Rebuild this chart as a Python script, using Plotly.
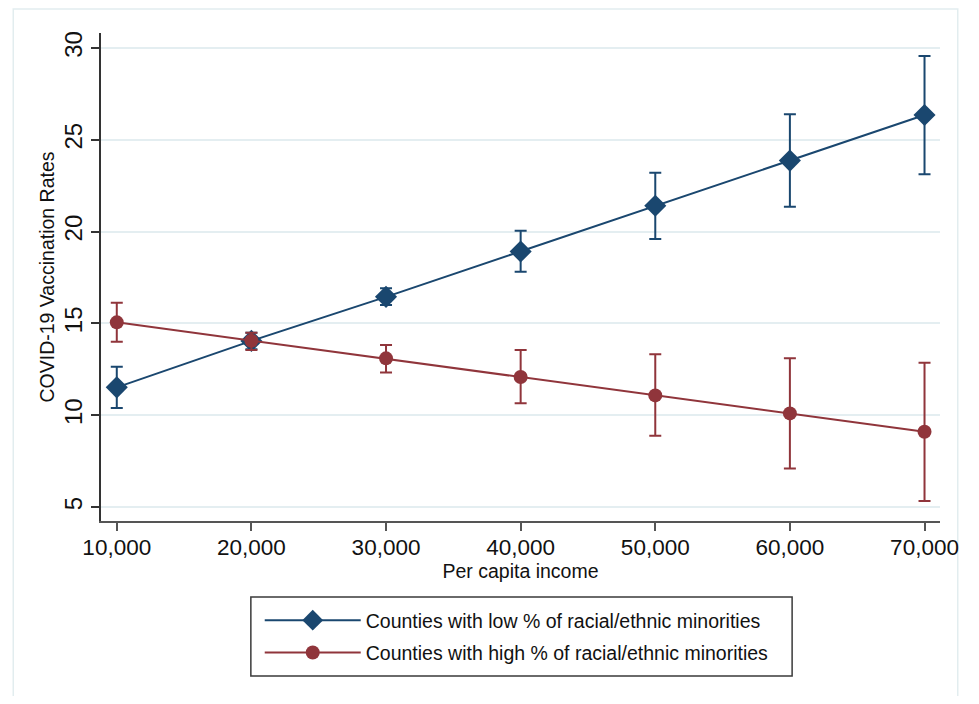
import plotly.graph_objects as go

income = [10000, 20000, 30000, 40000, 50000, 60000, 70000]
income_ticks = [10000, 20000, 30000, 40000, 50000, 60000, 70000]
income_tick_labels = ["10,000", "20,000", "30,000", "40,000", "50,000", "60,000", "70,000"]
rate_ticks = [5, 10, 15, 20, 25, 30]

low_name = "Counties with low % of racial/ethnic minorities"
low_rate = [11.52, 14.05, 16.45, 18.92, 21.41, 23.87, 26.35]
low_lo = [10.40, 13.60, 16.00, 17.82, 19.60, 21.36, 23.13]
low_hi = [12.64, 14.50, 16.92, 20.05, 23.21, 26.40, 29.57]

high_name = "Counties with high % of racial/ethnic minorities"
high_rate = [15.06, 14.06, 13.10, 12.08, 11.08, 10.10, 9.10]
high_lo = [14.00, 13.55, 12.33, 10.65, 8.88, 7.10, 5.33]
high_hi = [16.13, 14.50, 13.82, 13.55, 13.32, 13.10, 12.86]

BLUE = "#1a476f"
RED = "#90353b"
FONT = "Liberation Sans, Arial, Helvetica, sans-serif"

fig = go.Figure()

def add_series(name, y, lo, hi, color, symbol, size, group):
    fig.add_trace(go.Scatter(
        x=income, y=y, name=name, mode="lines+markers",
        legendgroup=group,
        line=dict(color=color, width=2),
        marker=dict(color=color, symbol=symbol, size=size),
        error_y=dict(
            type="data", symmetric=False,
            array=[h - v for h, v in zip(hi, y)],
            arrayminus=[v - l for l, v in zip(lo, y)],
            color=color, thickness=2, width=6,
        ),
    ))

add_series(low_name, low_rate, low_lo, low_hi, BLUE, "diamond", 17, "a")
add_series(high_name, high_rate, high_lo, high_hi, RED, "circle", 14, "b")

# page has an 8px body margin on every side, so the figure starts at (8, 8)
OFF = 8
W, H = 979 - 2 * OFF, 704 - 2 * OFF
L, R, T, B = 101, 952, 33, 521  # plot area in page pixels

def px_x(p):
    return (p - L) / (R - L)

def px_y(p):
    return (B - p) / (B - T)

shapes = [
    # outer frame
    dict(type="rect", xref="paper", yref="paper",
         x0=px_x(12), x1=px_x(970), y0=px_y(715), y1=px_y(9),
         line=dict(color="#e2edef", width=1.5), layer="below"),
    # legend box
    dict(type="rect", xref="paper", yref="paper",
         x0=px_x(253), x1=px_x(802), y0=px_y(676), y1=px_y(597),
         line=dict(color="#3a3a3a", width=1.5)),
]

fig.update_layout(
    width=W, height=H,
    margin=dict(l=L - OFF, r=W - (R - OFF), t=T - OFF, b=H - (B - OFF)),
    paper_bgcolor="white", plot_bgcolor="white",
    font=dict(family=FONT, color="#111111"),
    shapes=shapes,
    showlegend=True,
    legend=dict(
        x=px_x(262), y=px_y(601), xanchor="left", yanchor="top",
        bgcolor="rgba(0,0,0,0)", borderwidth=0,
        font=dict(size=19.5, family=FONT, color="#111111"),
        tracegroupgap=4, itemwidth=96,
    ),
    xaxis=dict(
        range=[8828, 71150],
        tickmode="array", tickvals=income_ticks, ticktext=income_tick_labels,
        tickfont=dict(size=22.5, family=FONT, color="#111111"),
        ticks="outside", ticklen=8, tickwidth=1.5, tickcolor="#555555",
        ticklabelstandoff=-3,
        showline=True, linecolor="#555555", linewidth=2,
        showgrid=False, zeroline=False,
        title=dict(text="Per capita income", font=dict(size=19.5, family=FONT), standoff=0),
    ),
    yaxis=dict(
        range=[4.24, 30.82],
        tickmode="array", tickvals=rate_ticks,
        tickangle=-90,
        tickfont=dict(size=24, family=FONT, color="#111111"),
        ticks="outside", ticklen=8, tickwidth=1.5, tickcolor="#333333",
        showline=True, linecolor="#333333", linewidth=1.5,
        showgrid=True, gridcolor="#e4eef1", gridwidth=1.5,
        zeroline=False,
        title=dict(text="COVID-19 Vaccination Rates", font=dict(size=19.5, family=FONT), standoff=0),
    ),
)

fig.write_html("out.html")
